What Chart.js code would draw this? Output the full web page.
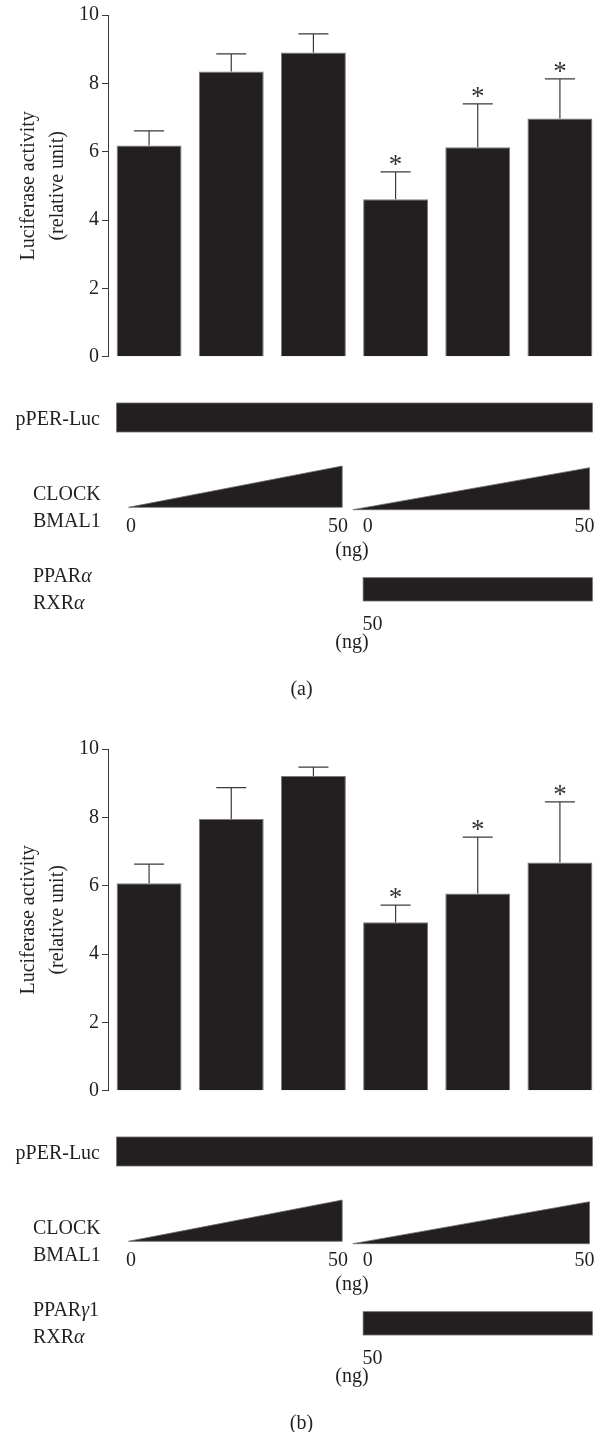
<!DOCTYPE html>
<html><head><meta charset="utf-8">
<script src="https://cdn.jsdelivr.net/npm/chart.js@4.4.1/dist/chart.umd.min.js"></script>
<style>html,body{margin:0;padding:0;background:#fff;} canvas{display:block;}</style>
</head><body>
<canvas id="chartA" width="603" height="734"></canvas>
<canvas id="chartB" width="603" height="698"></canvas>
<script>
// ---------------- DATA ----------------
const lanes = ['Lane 1', 'Lane 2', 'Lane 3', 'Lane 4', 'Lane 5', 'Lane 6'];
const yTickValues = [0, 2, 4, 6, 8, 10];
const meansA = [6.18, 8.35, 8.90, 4.61, 6.13, 6.97];
const errorsA = [0.43, 0.51, 0.55, 0.80, 1.27, 1.16];
const significantA = [false, false, false, true, true, true];
const meansB = [6.07, 7.95, 9.21, 4.93, 5.77, 6.68];
const errorsB = [0.56, 0.92, 0.26, 0.50, 1.65, 1.77];
const significantB = [false, false, false, true, true, true];
const yTitle = ['Luciferase activity', '(relative unit)'];
const reporterLabel = 'pPER-Luc';
const activatorLabels = ['CLOCK', 'BMAL1'];
const activatorDoseLabels = ['0', '50', '0', '50'];
const unitLabel = '(ng)';
const receptorLabelsA = [[{t: 'PPAR'}, {t: 'α', i: true}], [{t: 'RXR'}, {t: 'α', i: true}]];
const receptorLabelsB = [[{t: 'PPAR'}, {t: 'γ', i: true}, {t: '1'}], [{t: 'RXR'}, {t: 'α', i: true}]];
const receptorDoseLabel = '50';
const panelLabelA = '(a)';
const panelLabelB = '(b)';

// ---------------- STYLE / LAYOUT ----------------
const INK = '#231f20';
const AXIS = '#3a3a3a';
const FAM = '"Liberation Serif", "Times New Roman", serif';
const ZERO_Y = 356.7;
const LAY = {
  reporterBar: [403, 432],
  reporterText: {x: 100, y: 425},
  activatorText: {x: 33, y: [500, 526.7]},
  tri1: {from: -0.25, to: 2.35, base: 507.3, top: 466},
  tri2: {from: 2.48, to: 5.36, base: 509.7, top: 467.7},
  triDose: {pos: [-0.22, 2.30, 2.66, 5.30], y: 531.7},
  unit1: {pos: 2.47, y: 556},
  receptorText: {x: 33, y: [581.7, 609]},
  receptorBar: [577.7, 601],
  receptorDose: {pos: 2.72, y: 630},
  unit2: {pos: 2.47, y: 648.3},
  panel: {x: 301.5, y: 695},
  capHalf: 15,
  starGap: 11.5
};

function drawRich(ctx, parts, x, y, size, align) {
  const fN = size + 'px ' + FAM, fI = 'italic ' + size + 'px ' + FAM;
  let w = 0;
  parts.forEach(p => { ctx.font = p.i ? fI : fN; w += ctx.measureText(p.t).width; });
  let cx = align === 'center' ? x - w / 2 : (align === 'right' ? x - w : x);
  ctx.textAlign = 'left';
  ctx.textBaseline = 'alphabetic';
  parts.forEach(p => { ctx.font = p.i ? fI : fN; ctx.fillText(p.t, cx, y); cx += ctx.measureText(p.t).width; });
}

function makePlugin(errors, sig, receptorLabels, panelLabel) {
  return {
    id: 'extras',
    afterDatasetsDraw(chart) {
      const ctx = chart.ctx;
      const ys = chart.scales.y;
      const meta = chart.getDatasetMeta(0);
      const means = chart.data.datasets[0].data;
      ctx.save();
      ctx.strokeStyle = AXIS;
      ctx.lineWidth = 1.2;
      meta.data.forEach((el, i) => {
        const top = ys.getPixelForValue(means[i] + errors[i]);
        ctx.beginPath();
        ctx.moveTo(el.x, el.y);
        ctx.lineTo(el.x, top);
        ctx.moveTo(el.x - LAY.capHalf, top);
        ctx.lineTo(el.x + LAY.capHalf, top);
        ctx.stroke();
        if (sig[i]) {
          ctx.fillStyle = '#333';
          ctx.font = '27px ' + FAM;
          ctx.textAlign = 'center';
          ctx.textBaseline = 'alphabetic';
          const m = ctx.measureText('*');
          const a = m.actualBoundingBoxAscent, d = m.actualBoundingBoxDescent;
          const cy = top - LAY.starGap;
          ctx.fillText('*', el.x, cy + (a - d) / 2);
        }
      });
      ctx.restore();
    },
    afterDraw(chart) {
      const ctx = chart.ctx;
      const xs = chart.scales.x;
      const meta = chart.getDatasetMeta(0);
      const bars = meta.data;
      const left = i => bars[i].x - bars[i].width / 2;
      const right = i => bars[i].x + bars[i].width / 2;
      ctx.save();
      ctx.fillStyle = INK;
      ctx.strokeStyle = '#6d6d6d';
      ctx.lineWidth = 0.8;
      const r0 = left(0), r1 = right(bars.length - 1);
      ctx.fillRect(r0, LAY.reporterBar[0], r1 - r0, LAY.reporterBar[1] - LAY.reporterBar[0]);
      ctx.strokeRect(r0, LAY.reporterBar[0], r1 - r0, LAY.reporterBar[1] - LAY.reporterBar[0]);
      [LAY.tri1, LAY.tri2].forEach(t => {
        const x0 = xs.getPixelForValue(t.from), x1 = xs.getPixelForValue(t.to);
        ctx.beginPath();
        ctx.moveTo(x0, t.base);
        ctx.lineTo(x1, t.top);
        ctx.lineTo(x1, t.base);
        ctx.closePath();
        ctx.fill();
        ctx.stroke();
      });
      const p0 = left(3), p1 = right(bars.length - 1);
      ctx.fillRect(p0, LAY.receptorBar[0], p1 - p0, LAY.receptorBar[1] - LAY.receptorBar[0]);
      ctx.strokeRect(p0, LAY.receptorBar[0], p1 - p0, LAY.receptorBar[1] - LAY.receptorBar[0]);
      ctx.fillStyle = INK;
      drawRich(ctx, [{t: reporterLabel}], LAY.reporterText.x, LAY.reporterText.y, 20, 'right');
      activatorLabels.forEach((s, i) => drawRich(ctx, [{t: s}], LAY.activatorText.x, LAY.activatorText.y[i], 20, 'left'));
      activatorDoseLabels.forEach((s, i) => drawRich(ctx, [{t: s}], xs.getPixelForValue(LAY.triDose.pos[i]), LAY.triDose.y, 20, 'center'));
      drawRich(ctx, [{t: unitLabel}], xs.getPixelForValue(LAY.unit1.pos), LAY.unit1.y, 20, 'center');
      receptorLabels.forEach((parts, i) => drawRich(ctx, parts, LAY.receptorText.x, LAY.receptorText.y[i], 20, 'left'));
      drawRich(ctx, [{t: receptorDoseLabel}], xs.getPixelForValue(LAY.receptorDose.pos), LAY.receptorDose.y, 20, 'center');
      drawRich(ctx, [{t: unitLabel}], xs.getPixelForValue(LAY.unit2.pos), LAY.unit2.y, 20, 'center');
      drawRich(ctx, [{t: panelLabel}], LAY.panel.x, LAY.panel.y, 20, 'center');
      ctx.restore();
    }
  };
}

function makeChart(id, means, errors, sig, receptorLabels, panelLabel) {
  const canvas = document.getElementById(id);
  const H = canvas.height;
  return new Chart(canvas, {
    type: 'bar',
    data: {
      labels: lanes,
      datasets: [{
        data: means,
        backgroundColor: INK,
        borderColor: '#7a7a7a',
        borderWidth: 1,
        barPercentage: 0.79,
        categoryPercentage: 1
      }]
    },
    options: {
      responsive: false,
      animation: false,
      devicePixelRatio: 1,
      layout: {padding: {top: 15, left: 0, right: 2, bottom: H - ZERO_Y}},
      plugins: {legend: {display: false}, tooltip: {enabled: false}, title: {display: false}},
      scales: {
        x: {display: false, offset: true, grid: {display: false}},
        y: {
          min: 0, max: 10,
          afterFit: s => { s.width = 108; },
          afterBuildTicks: s => { s.ticks = yTickValues.map(v => ({value: v})); },
          ticks: {color: INK, font: {family: FAM, size: 20}, padding: 3},
          grid: {drawOnChartArea: false, drawTicks: true, tickLength: 6, color: AXIS, lineWidth: 1},
          border: {display: true, color: AXIS, width: 1},
          title: {display: true, text: yTitle, color: INK, font: {family: FAM, size: 20, lineHeight: 1.42}, padding: {top: 14.8, bottom: 0}}
        }
      }
    },
    plugins: [makePlugin(errors, sig, receptorLabels, panelLabel)]
  });
}

makeChart('chartA', meansA, errorsA, significantA, receptorLabelsA, panelLabelA);
makeChart('chartB', meansB, errorsB, significantB, receptorLabelsB, panelLabelB);
</script>
</body></html>
